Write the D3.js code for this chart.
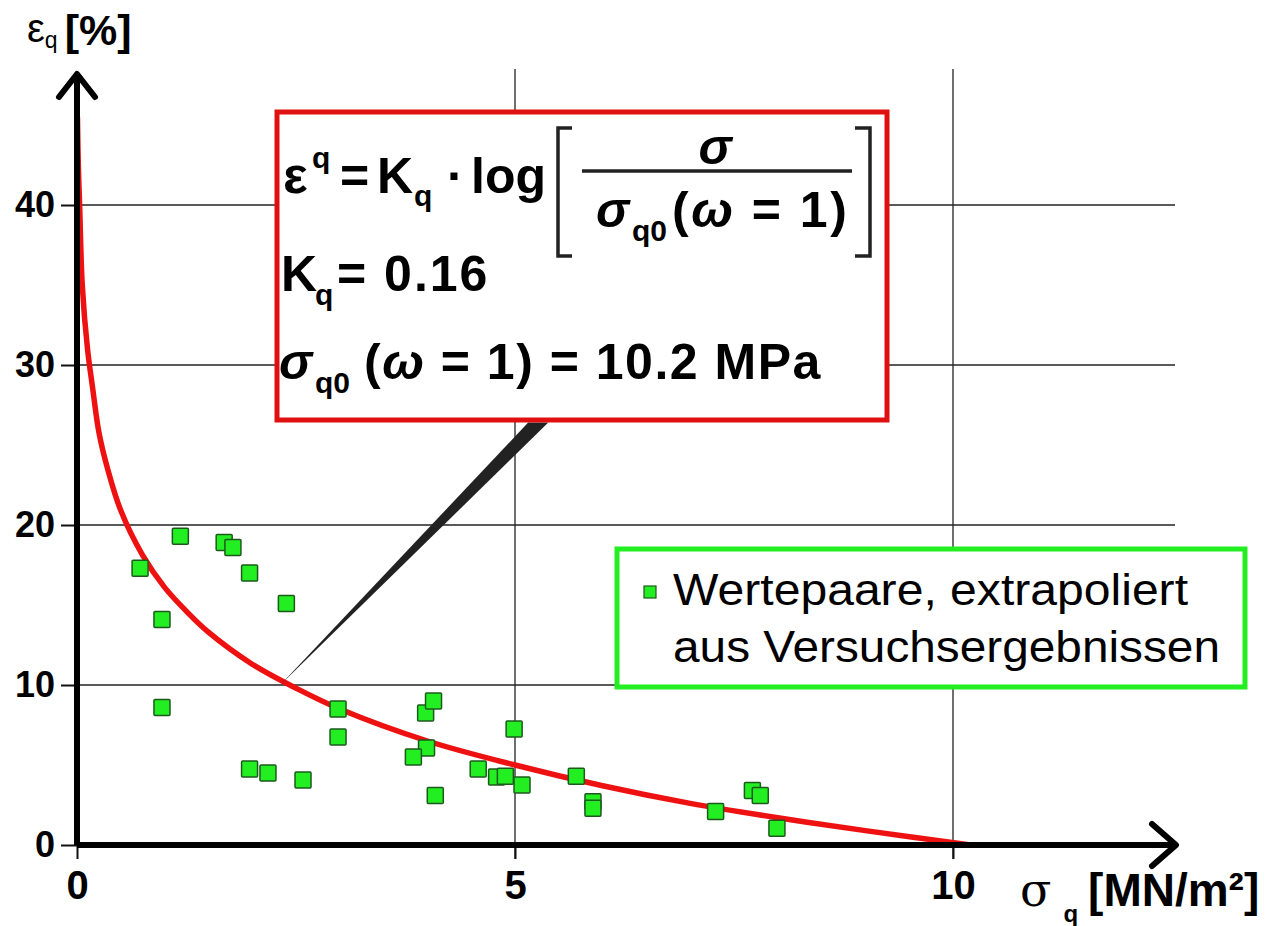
<!DOCTYPE html>
<html lang="de">
<head>
<meta charset="UTF-8">
<title>Kriechverformung</title>
<script src="https://d3js.org/d3.v7.min.js"></script>
<style>
  body { margin: 0; padding: 0; background: #fff; }
  svg { display: block; font-family: "Liberation Sans", Arial, sans-serif; }
</style>
</head>
<body>
<div id="chart"></div>
<script>
// measured pairs (sigma_q in MN/m², eps_q in %)
const sigmaVals = [0.72, 1.18, 0.97, 0.97, 1.68, 1.78, 1.97, 2.39, 1.97, 2.18, 2.58, 2.98, 2.98,
                   3.98, 4.07, 3.99, 3.84, 4.09, 4.58, 4.79, 4.89, 4.99, 5.08, 5.70, 5.89, 5.89,
                   7.29, 7.71, 7.80, 7.99];
const epsVals   = [17.3, 19.3, 14.1, 8.6, 18.9, 18.6, 17.0, 15.1, 4.75, 4.5, 4.06, 8.5, 6.75,
                   8.25, 9.0, 6.06, 5.5, 3.1, 4.75, 4.25, 4.3, 7.25, 3.75, 4.3, 2.7, 2.3,
                   2.1, 3.4, 3.1, 1.05];

// red fitting curve
const curveSigma = [0.005, 0.015, 0.03, 0.06, 0.12, 0.18, 0.25, 0.35, 0.5, 0.75, 1, 1.25, 1.5, 2, 2.5, 3, 4, 5, 6, 7, 8, 9, 10.2];
const curveEps   = [45.5, 42.5, 40, 35, 31, 28.5, 25.8, 23.5, 20.9, 18.1, 16.1, 14.6, 13.3, 11.3, 9.8, 8.5, 6.5, 5, 3.7, 2.6, 1.7, 0.9, 0];

const xTicks = [0, 5, 10];
const yTicks = [0, 10, 20, 30, 40];
const yGrid = [10, 20, 30, 40];
const xGrid = [5, 10];

// pointer wedge from curve to the formula box
const pointerSigma = [2.32, 5.15, 5.38];
const pointerEps = [10, 26.4, 26.4];

const W = 1282, H = 926;
const svg = d3.select("#chart").append("svg")
    .attr("width", W)
    .attr("height", H);

const x = d3.scaleLinear().domain([0, 12.5]).range([77, 1172]);
const y = d3.scaleLinear().domain([0, 48.5]).range([845, 69]);

// grid
svg.append("g").selectAll("line").data(yGrid).join("line")
    .attr("x1", x(0)).attr("x2", 1175)
    .attr("y1", d => y(d)).attr("y2", d => y(d))
    .attr("stroke", "#222").attr("stroke-width", 1.3);
svg.append("g").selectAll("line").data(xGrid).join("line")
    .attr("x1", d => x(d)).attr("x2", d => x(d))
    .attr("y1", y(0) + 14).attr("y2", y(48.5))
    .attr("stroke", "#222").attr("stroke-width", 1.3);

// axes (ticks + labels via d3 axis)
const yAxis = svg.append("g")
    .attr("transform", `translate(${x(0)},0)`)
    .call(d3.axisLeft(y).tickValues(yTicks).tickSize(16).tickPadding(6));
const xAxis = svg.append("g")
    .attr("transform", `translate(0,${y(0)})`)
    .call(d3.axisBottom(x).tickValues(xTicks).tickSize(14).tickPadding(12));
[xAxis, yAxis].forEach(a => {
    a.attr("font-weight", "bold")
     .attr("font-family", "Liberation Sans, Arial, sans-serif");
    a.select(".domain").remove();
    a.selectAll(".tick line").attr("stroke", "#111").attr("stroke-width", 2);
    a.selectAll(".tick text").attr("fill", "#000");
});
yAxis.attr("font-size", 36);
xAxis.attr("font-size", 40);
yAxis.selectAll(".tick text").attr("x", -22);

// red curve
const curvePts = curveSigma.map((s, i) => [s, curveEps[i]]);
svg.append("path")
    .datum(curvePts)
    .attr("fill", "none")
    .attr("stroke", "#ee1111")
    .attr("stroke-width", 5.5)
    .attr("d", d3.line().x(d => x(d[0])).y(d => y(d[1])).curve(d3.curveCatmullRom.alpha(0.5)));

// thick axis lines with arrow heads
svg.append("line")
    .attr("x1", x(0)).attr("x2", 1176)
    .attr("y1", y(0)).attr("y2", y(0))
    .attr("stroke", "#000").attr("stroke-width", 6);
svg.append("line")
    .attr("x1", x(0)).attr("x2", x(0))
    .attr("y1", y(0)).attr("y2", 74)
    .attr("stroke", "#000").attr("stroke-width", 6);
svg.append("path")
    .attr("d", `M1152,${y(0) - 21} L1176,${y(0)} L1152,${y(0) + 21}`)
    .attr("fill", "none").attr("stroke", "#000").attr("stroke-width", 6)
    .attr("stroke-linecap", "round").attr("stroke-linejoin", "round");
svg.append("path")
    .attr("d", `M${x(0) - 18},97 L${x(0)},74 L${x(0) + 18},97`)
    .attr("fill", "none").attr("stroke", "#000").attr("stroke-width", 6)
    .attr("stroke-linecap", "round").attr("stroke-linejoin", "round");

// pointer wedge
svg.append("path")
    .datum(pointerSigma.map((s, i) => [s, pointerEps[i]]))
    .attr("d", d3.line().x(d => x(d[0])).y(d => y(d[1])).curve(d3.curveLinearClosed))
    .attr("fill", "#222");

// data points
svg.append("g").selectAll("rect").data(sigmaVals).join("rect")
    .attr("x", (d, i) => x(d) - 8)
    .attr("y", (d, i) => y(epsVals[i]) - 8)
    .attr("width", 16).attr("height", 16)
    .attr("rx", 1)
    .attr("fill", "#22ee22")
    .attr("stroke", "#1c5a1c")
    .attr("stroke-width", 1.5);

// axis titles
const yt = svg.append("text").attr("x", 27).attr("y", 42).attr("fill", "#000");
yt.append("tspan").attr("font-size", 40).text("ε");
yt.append("tspan").attr("font-size", 23).attr("dy", 6).text("q");
yt.append("tspan").attr("font-size", 43).attr("font-weight", "bold").attr("dy", -3).attr("dx", 7).text("[%]");

const xt = svg.append("text").attr("x", 1020).attr("y", 906).attr("fill", "#000");
xt.append("tspan").attr("font-size", 46).attr("font-family", "DejaVu Serif, serif").text("σ");
xt.append("tspan").attr("font-size", 24).attr("font-weight", "bold").attr("dy", 16).attr("dx", 12).text("q");
xt.append("tspan").attr("font-size", 46).attr("font-weight", "bold").attr("dy", -16).attr("dx", 10).text("[MN/m²]");

// formula box
const box = svg.append("g");
box.append("rect")
    .attr("x", 277).attr("y", 112).attr("width", 610).attr("height", 308)
    .attr("fill", "#fff").attr("stroke", "#e01010").attr("stroke-width", 5);

function piece(g, px, py, txt, size, italic) {
    return g.append("text")
        .attr("x", px).attr("y", py)
        .attr("font-size", size)
        .attr("font-weight", "bold")
        .attr("font-style", italic ? "italic" : "normal")
        .attr("fill", "#000")
        .text(txt);
}
// line 1
piece(box, 283, 193, "ε", 52);
piece(box, 312, 168, "q", 30);
piece(box, 340, 193, "=", 50);
piece(box, 377, 193, "K", 50);
piece(box, 414, 206, "q", 30);
piece(box, 447, 193, "·", 50);
piece(box, 471, 193, "log", 50);
box.append("path").attr("d", "M572,128 L558,128 L558,256 L572,256")
    .attr("fill", "none").attr("stroke", "#222").attr("stroke-width", 3.5);
box.append("path").attr("d", "M855,128 L870,128 L870,256 L855,256")
    .attr("fill", "none").attr("stroke", "#222").attr("stroke-width", 3.5);
piece(box, 715, 164, "σ", 50, true).attr("text-anchor", "middle");
box.append("line").attr("x1", 582).attr("x2", 852).attr("y1", 171).attr("y2", 171)
    .attr("stroke", "#222").attr("stroke-width", 3.5);
piece(box, 596, 227, "σ", 50, true);
piece(box, 632, 241, "q0", 30);
const d1 = piece(box, 672, 227, "(", 50).attr("letter-spacing", 2.5);
d1.append("tspan").attr("font-style", "italic").text("ω");
d1.append("tspan").text(" = 1)");
// line 2
piece(box, 281, 291, "K", 50);
piece(box, 315, 305, "q", 30);
piece(box, 337, 291, "= 0.16", 50).attr("letter-spacing", 2);
// line 3
piece(box, 279, 379, "σ", 50, true);
piece(box, 315, 393, "q0", 30);
const l3 = piece(box, 364, 379, "(", 50).attr("letter-spacing", 1.5);
l3.append("tspan").attr("font-style", "italic").text("ω");
l3.append("tspan").text(" = 1) = 10.2 MPa");

// legend
const leg = svg.append("g");
leg.append("rect")
    .attr("x", 617).attr("y", 549).attr("width", 628).attr("height", 138)
    .attr("fill", "#fff").attr("stroke", "#22ee22").attr("stroke-width", 5);
leg.append("rect")
    .attr("x", 644).attr("y", 586).attr("width", 12).attr("height", 12)
    .attr("fill", "#22ee22").attr("stroke", "#1c5a1c").attr("stroke-width", 1.2);
leg.append("text").attr("x", 673).attr("y", 605).attr("font-size", 45).attr("fill", "#000")
    .attr("textLength", 515).attr("lengthAdjust", "spacingAndGlyphs")
    .text("Wertepaare, extrapoliert");
leg.append("text").attr("x", 673).attr("y", 662).attr("font-size", 45).attr("fill", "#000")
    .attr("textLength", 547).attr("lengthAdjust", "spacingAndGlyphs")
    .text("aus Versuchsergebnissen");
</script>
</body>
</html>
